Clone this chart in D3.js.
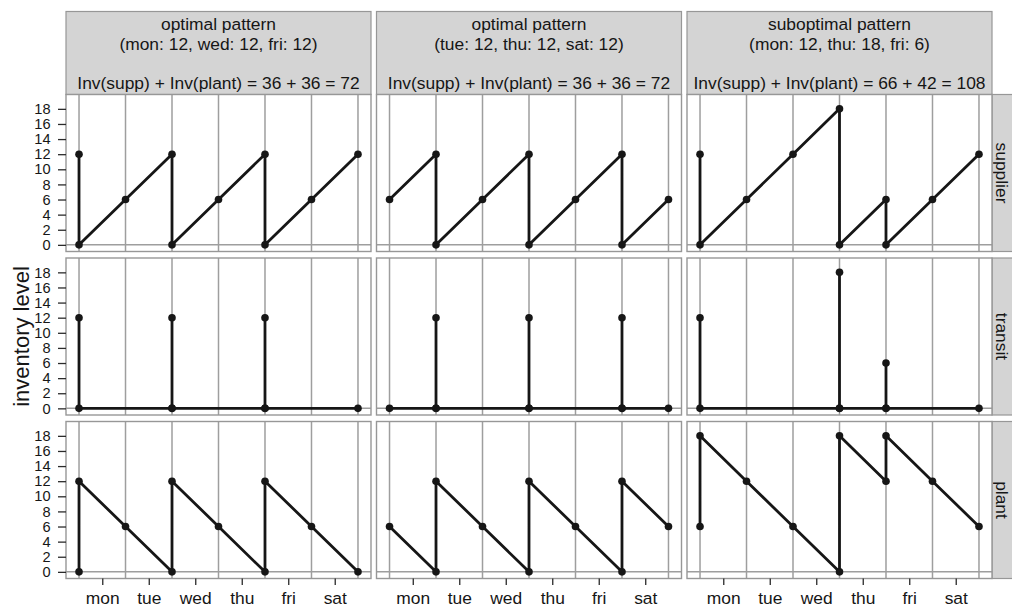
<!DOCTYPE html>
<html>
<head>
<meta charset="utf-8">
<script src="https://cdn.jsdelivr.net/npm/d3@7/dist/d3.min.js"></script>
<style>
  html, body { margin: 0; padding: 0; background: #fff; }
  svg { display: block; font-family: "Liberation Sans", Arial, Helvetica, sans-serif; }
</style>
</head>
<body>
<svg id="chart" width="1012" height="610"></svg>
<script>
// Day labels sit between the day boundaries t = 0..6
const days = ["mon", "tue", "wed", "thu", "fri", "sat"];
const dayBoundaries = [0, 1, 2, 3, 4, 5, 6];
const yTicks = [0, 2, 4, 6, 8, 10, 12, 14, 16, 18];

// Column strips
const patternNames = ["optimal pattern", "optimal pattern", "suboptimal pattern"];
const patternOrders = ["(mon: 12, wed: 12, fri: 12)", "(tue: 12, thu: 12, sat: 12)", "(mon: 12, thu: 18, fri: 6)"];
const suppInv = [36, 36, 66];
const plantInv = [36, 36, 42];

// Row strips
const stages = ["supplier", "transit", "plant"];

// Inventory paths as [time, level] pairs — pattern 1 (mon/wed/fri)
const supplier1 = [[0,12],[0,0],[1,6],[2,12],[2,0],[3,6],[4,12],[4,0],[5,6],[6,12]];
const transit1  = [[0,12],[0,0],[2,0],[2,12],[2,0],[4,0],[4,12],[4,0],[6,0]];
const plant1    = [[0,0],[0,12],[1,6],[2,0],[2,12],[3,6],[4,0],[4,12],[5,6],[6,0]];

// pattern 2 (tue/thu/sat)
const supplier2 = [[0,6],[1,12],[1,0],[2,6],[3,12],[3,0],[4,6],[5,12],[5,0],[6,6]];
const transit2  = [[0,0],[1,0],[1,12],[1,0],[3,0],[3,12],[3,0],[5,0],[5,12],[5,0],[6,0]];
const plant2    = [[0,6],[1,0],[1,12],[2,6],[3,0],[3,12],[4,6],[5,0],[5,12],[6,6]];

// pattern 3 (mon 12 / thu 18 / fri 6)
const supplier3 = [[0,12],[0,0],[1,6],[2,12],[3,18],[3,0],[4,6],[4,0],[5,6],[6,12]];
const transit3  = [[0,12],[0,0],[3,0],[3,18],[3,0],[4,0],[4,6],[4,0],[6,0]];
const plant3    = [[0,6],[0,18],[1,12],[2,6],[3,0],[3,18],[4,12],[4,18],[5,12],[6,6]];

const panels = [
  [supplier1, supplier2, supplier3],
  [transit1, transit2, transit3],
  [plant1, plant2, plant3]
];

// Layout
const colLeft = [66, 376.5, 687];
const panelW = 305;
const rowTop = [94.5, 258, 421.5];
const panelH = 157;
const stripTop = 11.5;
const rightStripW = 21;

const stripFill = "#d4d4d4";
const frameColor = "#979797";
const gridColor = "#9e9e9e";
const ink = "#161616";

const svg = d3.select("#chart");

const xScales = colLeft.map(l => d3.scaleLinear().domain([-0.28, 6.28]).range([l, l + panelW]));
const yScales = rowTop.map(t => d3.scaleLinear().domain([-0.88, 19.9]).range([t + panelH, t]));

// Column strips
colLeft.forEach((l, c) => {
  const g = svg.append("g");
  g.append("rect")
    .attr("x", l).attr("y", stripTop)
    .attr("width", panelW).attr("height", rowTop[0] - stripTop)
    .attr("fill", stripFill).attr("stroke", frameColor).attr("stroke-width", 1.2);
  const cx = l + panelW / 2;
  const lines = [
    [patternNames[c], 29.5],
    [patternOrders[c], 49.7],
    [`Inv(supp) + Inv(plant) = ${suppInv[c]} + ${plantInv[c]} = ${suppInv[c] + plantInv[c]}`, 89.3]
  ];
  lines.forEach(([txt, y]) => {
    g.append("text").attr("x", cx).attr("y", y)
      .attr("text-anchor", "middle").attr("font-size", 17.4).attr("fill", ink).text(txt);
  });
});

// Row strips
rowTop.forEach((t, r) => {
  const x0 = colLeft[2] + panelW;
  svg.append("rect")
    .attr("x", x0).attr("y", t)
    .attr("width", rightStripW).attr("height", panelH)
    .attr("fill", stripFill).attr("stroke", frameColor).attr("stroke-width", 1.2);
  svg.append("text")
    .attr("transform", `translate(${x0 + 10.5},${t + panelH / 2}) rotate(90)`)
    .attr("text-anchor", "middle").attr("dy", "0.35em")
    .attr("font-size", 17.4).attr("fill", ink).text(stages[r]);
});

const line = (x, y) => d3.line().x(d => x(d[0])).y(d => y(d[1]));

// Panels
rowTop.forEach((t, r) => {
  colLeft.forEach((l, c) => {
    const x = xScales[c], y = yScales[r];
    const g = svg.append("g");
    g.append("rect")
      .attr("x", l).attr("y", t).attr("width", panelW).attr("height", panelH)
      .attr("fill", "#fff");

    // reference lines at day boundaries and at zero
    g.selectAll("line.v").data(dayBoundaries).join("line")
      .attr("x1", d => x(d)).attr("x2", d => x(d))
      .attr("y1", t).attr("y2", t + panelH)
      .attr("stroke", gridColor).attr("stroke-width", 1.5);
    g.append("line")
      .attr("x1", l).attr("x2", l + panelW)
      .attr("y1", y(0)).attr("y2", y(0))
      .attr("stroke", gridColor).attr("stroke-width", 1.5);

    const data = panels[r][c];
    g.append("path")
      .attr("d", line(x, y)(data))
      .attr("fill", "none").attr("stroke", ink)
      .attr("stroke-width", 2.8).attr("stroke-linejoin", "round");
    g.selectAll("circle").data(data).join("circle")
      .attr("cx", d => x(d[0])).attr("cy", d => y(d[1]))
      .attr("r", 3.8).attr("fill", ink);

    g.append("rect")
      .attr("x", l).attr("y", t).attr("width", panelW).attr("height", panelH)
      .attr("fill", "none").attr("stroke", frameColor).attr("stroke-width", 1.4);

    // y axis on the first column
    if (c === 0) {
      const ax = svg.append("g").attr("transform", `translate(${l},0)`)
        .call(d3.axisLeft(y).tickValues(yTicks).tickSize(8).tickPadding(7.5));
      ax.select(".domain").remove();
      ax.selectAll(".tick line").attr("stroke", "#2a2a2a").attr("stroke-width", 1.3);
      ax.selectAll(".tick text").attr("font-size", 14.6).attr("fill", ink)
        .attr("font-family", "Liberation Sans, Arial, sans-serif");
    }
    // x axis on the bottom row
    if (r === 2) {
      const ax = svg.append("g").attr("transform", `translate(0,${t + panelH})`)
        .call(d3.axisBottom(x).tickValues(days.map((d, i) => i + 0.5))
          .tickFormat((d, i) => days[i]).tickSize(6.5).tickPadding(6.5));
      ax.select(".domain").remove();
      ax.selectAll(".tick line").attr("stroke", "#2a2a2a").attr("stroke-width", 1.3);
      ax.selectAll(".tick text").attr("font-size", 17.4).attr("fill", ink)
        .attr("font-family", "Liberation Sans, Arial, sans-serif");
    }
  });
});

// Axis title
svg.append("text")
  .attr("transform", `translate(29,${(rowTop[0] + rowTop[2] + panelH) / 2}) rotate(-90)`)
  .attr("text-anchor", "middle").attr("font-size", 22).attr("fill", ink)
  .text("inventory level");
</script>
</body>
</html>
